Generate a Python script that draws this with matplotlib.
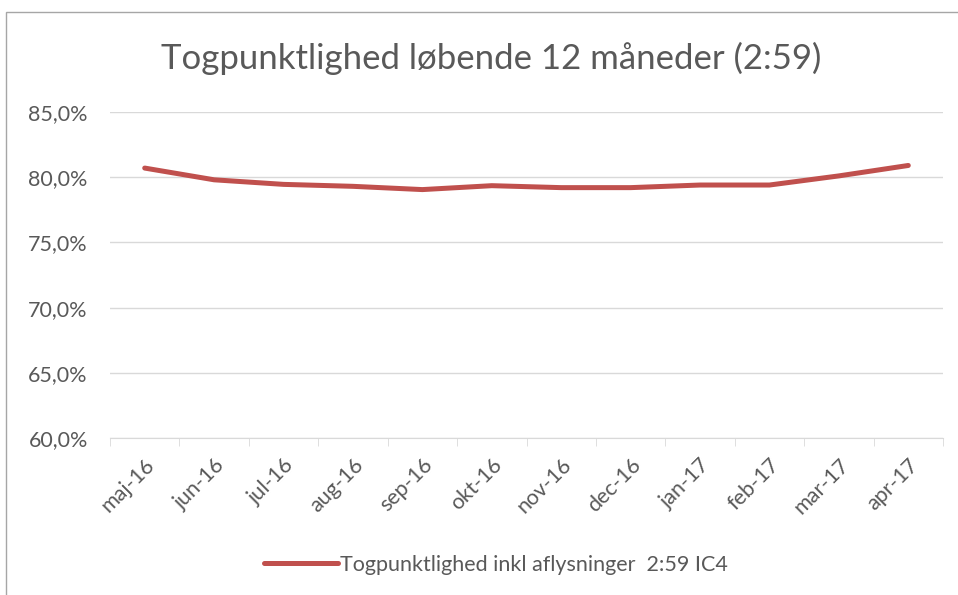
import numpy as np
import matplotlib.pyplot as plt
from matplotlib.patches import Rectangle
from matplotlib.ticker import FuncFormatter

plt.rcParams['font.family'] = ['Lato', 'DejaVu Sans']

months = ['maj-16', 'jun-16', 'jul-16', 'aug-16', 'sep-16', 'okt-16',
          'nov-16', 'dec-16', 'jan-17', 'feb-17', 'mar-17', 'apr-17']
punkt = [80.7, 79.8, 79.45, 79.3, 79.05, 79.35, 79.2, 79.2, 79.4, 79.4, 80.1, 80.9]
serie = 'Togpunktlighed inkl aflysninger  2:59 IC4'
titel = 'Togpunktlighed løbende 12 måneder (2:59)'

GRAY = '#595959'
RED = '#C0504D'

fig = plt.figure(figsize=(9.58, 5.95), dpi=100)
fig.patches.append(Rectangle((6 / 958, -0.01), 960 / 958, 1.01 - 12 / 595,
                             transform=fig.transFigure, fill=False,
                             ec='#a6a6a6', lw=1.0))
ax = fig.add_axes([110 / 958, 1 - 438 / 595, 833 / 958, 326 / 595])

x = np.arange(len(months))
ax.plot(x, punkt, color=RED, lw=3.6, solid_capstyle='round', label=serie)

ax.set_xlim(-0.5, len(months) - 0.5)
ax.set_ylim(60, 85)
ax.set_yticks(np.arange(60, 86, 5))
ax.yaxis.set_major_formatter(FuncFormatter(lambda v, p: f'{v:.1f}%'.replace('.', ',')))
ax.grid(axis='y', color='#d9d9d9', lw=1.0)
ax.set_axisbelow(True)
for s in ['top', 'right', 'left']:
    ax.spines[s].set_visible(False)
ax.spines['bottom'].set_color('#d9d9d9')
ax.tick_params(axis='y', length=0, labelsize=15.5, labelcolor=GRAY, pad=16)

ax.set_xticks(x)
ax.set_xticklabels(months, rotation=45, ha='right', rotation_mode='anchor',
                   fontsize=15.5, color=GRAY)
ax.tick_params(axis='x', length=0, pad=12)
ax.set_xticks(np.arange(-0.5, len(months)), minor=True)
ax.tick_params(axis='x', which='minor', length=6, color='#d9d9d9')

fig.text(491 / 958, 1 - 58 / 595, titel, ha='center', va='center',
         fontsize=25, color=GRAY)
fig.legend(loc='center', bbox_to_anchor=(496 / 958, 1 - 565 / 595),
           frameon=False, fontsize=15.5, labelcolor=GRAY,
           handlelength=3.4, handletextpad=0.1)

fig.savefig('out.png', dpi=100)
